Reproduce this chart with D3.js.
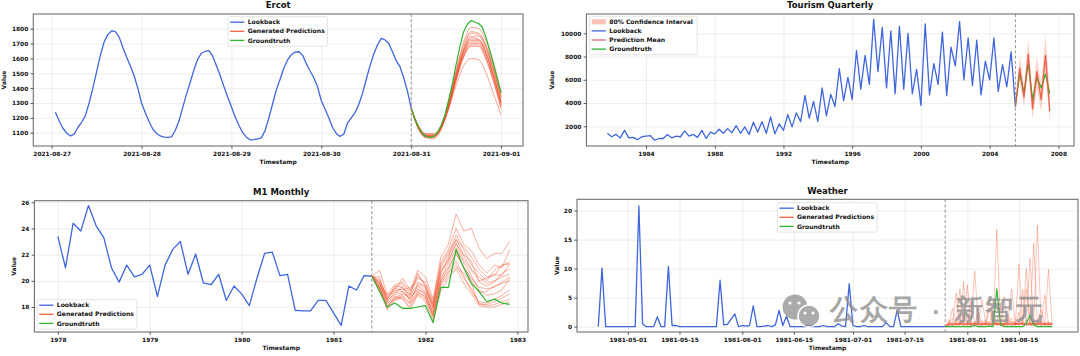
<!DOCTYPE html>
<html><head><meta charset="utf-8">
<script src="https://cdn.jsdelivr.net/npm/d3@7"></script>
<style>
body{margin:0;background:#fff}
svg{display:block}
text{font-family:"DejaVu Sans",sans-serif;font-weight:bold;fill:#111}
</style>
</head><body><script>
// ---------------- DATA ----------------
// Ercot: hourly from 2021-08-27 01:00
const ercotLookback = [1237,1180,1130,1098,1078,1090,1135,1170,1215,1300,1400,1510,1620,1710,1760,1785,1780,1745,1675,1610,1550,1485,1400,1300,
1235,1175,1125,1095,1078,1070,1068,1072,1115,1180,1270,1360,1440,1525,1595,1635,1648,1652,1615,1550,1485,1410,1340,1275,
1205,1150,1100,1070,1052,1053,1058,1065,1115,1200,1295,1390,1460,1535,1590,1625,1643,1645,1622,1565,1515,1470,1410,1315,
1260,1200,1135,1095,1075,1090,1165,1200,1235,1290,1365,1460,1550,1630,1690,1735,1725,1700,1645,1585,1545,1470,1380,1265];
// hourly from 2021-08-31 00:00
const ercotTruth = [1265,1190,1135,1095,1075,1068,1075,1100,1150,1220,1320,1430,1560,1680,1780,1830,1855,1845,1835,1810,1740,1650,1560,1460,1370];
// every 2 hours from 2021-08-31 00:00
const ercotSamples = [
[1265,1130,1080,1075,1130,1280,1480,1650,1740,1730,1640,1480,1300],
[1265,1125,1070,1070,1140,1300,1500,1660,1750,1750,1670,1520,1330],
[1265,1135,1085,1085,1135,1270,1460,1620,1700,1700,1610,1460,1280],
[1265,1120,1065,1060,1120,1290,1510,1690,1780,1770,1690,1540,1350],
[1265,1140,1090,1090,1150,1290,1470,1610,1680,1680,1590,1440,1260],
[1265,1130,1075,1075,1140,1290,1490,1670,1770,1760,1680,1520,1340],
[1265,1145,1095,1095,1140,1260,1420,1550,1600,1590,1500,1360,1220],
[1265,1125,1070,1070,1130,1300,1520,1710,1810,1800,1720,1570,1370],
[1265,1130,1080,1080,1135,1280,1470,1640,1720,1720,1630,1480,1290],
[1265,1135,1080,1075,1130,1270,1460,1630,1710,1710,1630,1480,1300],
[1265,1130,1075,1080,1140,1290,1480,1650,1730,1725,1650,1500,1310],
[1265,1140,1085,1080,1130,1265,1450,1610,1690,1690,1600,1450,1270]];
const ercotTicks = ["2021-08-27","2021-08-28","2021-08-29","2021-08-30","2021-08-31","2021-09-01"];
const ercotYTicks = [1100,1200,1300,1400,1500,1600,1700,1800];

// Tourism Quarterly: quarterly from 1981 Q4
const tourismLookback = [1400,1100,1300,1000,1650,1000,1050,850,
1100,1150,1200,800,950,950,1300,1000,
1150,1100,1600,1150,1300,1050,1650,950,
1500,1350,1750,1400,1800,1450,2050,1400,
1950,1300,2350,1500,2400,1400,2800,1350,
2200,1650,3000,1950,3150,2400,4650,2700,
4150,2400,5300,2900,4750,3700,6950,4200,
6200,4300,8500,5200,8100,5600,11200,6700,
10500,5300,10200,4800,10600,5200,10000,4800,
6900,3800,10800,4700,7400,5600,10100,4650,
8800,7200,11000,6000,9600,5500,9400,4700,
7600,6000,9600,5000,7300,5400,8400,3700];
const tourismMean  = [3700,7000,4500,8200,3500,6700,4300,8100,3300];
const tourismUpper = [3700,8100,5400,9500,4700,8000,5600,9900,5000];
const tourismLower = [3700,5800,3700,6800,2600,5300,3200,6500,2300];
const tourismTruth = [3700,6500,4900,7400,4300,6200,5300,6500,4800];
const tourismTicks = [1984,1988,1992,1996,2000,2004,2008];
const tourismYTicks = [2000,4000,6000,8000,10000];

// M1 Monthly: monthly from 1978-01
const m1Lookback = [23.4,21.0,24.4,23.8,25.75,24.2,23.3,21.0,19.9,21.2,20.3,20.5,
21.2,18.8,21.2,22.4,23.0,20.5,22.05,19.85,19.7,20.5,18.5,19.6,
19.0,18.1,20.2,22.1,22.2,20.4,20.5,17.75,17.7,17.7,18.5,18.5,
17.55,16.6,19.6,19.3,20.4,20.35];
// monthly from 1981-06
const m1Truth = [20.35,19.2,18.0,18.3,17.9,17.9,18.0,18.1,16.8,19.5,19.5,22.4,21.0,19.8,19.2,18.4,18.6,18.3,18.2];
const m1Samples = [
[20.35,20.8,19.0,19.7,19.9,19.2,20.8,20.3,18.6,21.8,22.8,25.1,23.8,24.0,22.5,21.7,22.1,22.1,23.0],
[20.35,19.8,18.4,19.1,19.2,18.6,19.6,19.0,17.5,20.3,21.0,22.2,21.0,20.2,19.5,19.4,19.5,19.9,20.3],
[20.35,19.5,18.0,18.6,18.9,18.3,19.2,18.7,17.2,19.8,20.6,21.2,20.2,19.4,18.3,18.1,18.2,18.4,18.6],
[20.35,20.1,18.8,19.5,19.8,19.0,20.4,19.7,18.1,21.0,22.0,23.5,22.4,21.2,20.6,20.0,20.8,21.2,21.4],
[20.35,19.4,17.8,18.5,18.7,17.8,18.9,18.4,17.0,19.2,20.2,20.9,19.8,19.0,18.1,18.0,18.0,18.2,18.4],
[20.35,19.9,18.6,19.4,19.3,19.5,19.9,19.4,17.9,20.8,21.6,22.8,21.6,20.8,20.0,20.2,20.5,20.4,21.3],
[20.35,19.6,18.2,18.9,19.1,18.8,19.4,18.9,17.6,20.1,21.3,22.5,21.4,20.4,19.3,18.9,19.0,19.3,20.2],
[20.35,19.7,18.5,19.0,19.6,18.4,19.7,19.2,18.2,20.5,21.8,23.2,22.0,21.5,19.9,19.6,19.9,20.6,20.9],
[20.35,19.3,17.9,18.8,18.6,18.0,19.0,18.6,17.4,19.6,20.4,21.0,20.6,19.8,18.2,18.2,18.4,18.7,19.0],
[20.35,20.0,18.9,19.3,20.2,19.3,20.2,19.9,18.4,21.4,22.4,24.0,22.8,22.3,21.2,20.6,21.2,21.0,22.4],
[20.35,19.5,18.3,18.7,19.0,18.7,19.3,19.1,17.8,20.0,20.9,22.0,21.1,20.0,19.1,19.2,19.6,19.8,20.0],
[20.35,19.8,18.7,19.2,19.4,18.9,19.8,19.6,18.0,20.6,21.5,22.9,21.9,20.9,20.3,19.8,20.0,20.3,20.5],
[20.35,19.4,18.1,18.6,18.8,18.2,19.1,18.8,17.3,19.9,20.7,21.5,20.4,19.2,18.4,18.3,18.6,18.9,19.3],
[20.35,20.3,18.5,19.6,19.5,18.9,20.6,19.5,18.3,21.2,22.2,23.1,22.6,21.8,20.9,20.3,20.4,21.2,21.3]];
const m1Ticks = [1978,1979,1980,1981,1982,1983];
const m1YTicks = [18,20,22,24,26];

// Weather: daily from 1981-04-23
const weatherLookback = [0,10.1,0,0,0,0,0,0,0,0,
0,20.8,0.5,0,0,0,1.7,0,0,10.4,
0.2,0.2,0,0,0,0,0,0,0,0,
0,0,0,8.0,0.3,0.4,1.3,2.2,0,0.2,
0.1,0.2,3.6,0,0,0.1,0.2,0,0.3,2.8,
0.2,1.8,0,0,0,0,0,0.3,0,0,
0,0.2,0,0,0,0.5,0.1,0,7.4,0.2,
0,0,0.2,0,0,0,0,0,0.7,0,
0,2.8,0,0,0,0,0,0,0,0,
0,0,0,0,0];
// daily from 1981-07-26
const weatherTruth = [0,0,0,0,0,0,0,0,0.2,0,0,0,0.1,0,6.5,0.3,0,0,0,0,0,0,0.5,2.0,0.3,0,0,0,0,0];
const weatherSamples = [
[0,0.4,0.2,1.0,6.5,0.3,0.5,0.2,0.8,0.3,0.1,1.2,0.4,0.2,16.8,0.5,0.3,0.8,0.2,0.4,0.6,0.3,1.1,0.2,0.5,0.3,0.8,0.4,0.2,0.6],
[0,0.8,0.3,0.5,0.2,7.8,0.4,0.6,0.2,1.4,0.3,0.5,0.2,0.7,0.4,0.3,5.2,0.4,0.9,0.2,10.7,0.5,0.3,0.7,0.4,1.0,0.2,0.5,0.8,0.3],
[0,0.2,0.6,0.3,0.9,0.4,7.2,0.3,9.6,0.5,0.2,0.8,0.3,0.6,0.2,0.9,0.4,0.3,0.5,0.7,0.3,0.4,6.5,0.6,0.3,17.5,0.5,0.3,0.4,0.2],
[0,0.5,1.5,0.3,0.4,0.6,0.2,4.5,0.3,0.5,0.8,0.2,3.2,0.4,0.6,0.3,0.5,2.0,0.3,0.6,0.4,0.8,0.3,0.5,14.4,0.3,0.6,0.4,9.9,0.3],
[0,0.3,0.5,5.8,0.4,0.2,0.7,0.3,0.5,2.5,0.4,0.6,0.3,0.5,0.8,0.4,0.2,0.6,1.5,0.3,0.5,0.4,0.7,11.8,0.3,0.5,0.4,0.3,0.6,0.4],
[0,0.6,0.2,0.4,0.8,0.3,0.5,0.6,0.4,0.3,4.6,0.5,0.3,0.4,0.6,0.2,0.5,0.3,0.9,0.4,0.3,6.4,0.5,0.2,0.4,0.6,3.0,0.3,0.5,0.4],
[0,0.4,3.2,0.5,0.3,0.6,0.4,0.2,0.5,0.3,0.6,0.4,0.8,2.8,0.3,0.5,0.4,0.2,0.6,0.3,0.5,0.7,10.0,0.4,0.3,0.5,0.2,0.6,0.4,0.5],
[0,0.7,0.4,0.3,0.6,0.5,0.3,0.8,0.4,0.6,0.3,0.5,0.4,0.7,0.3,0.6,0.5,0.4,0.3,0.8,0.4,0.6,0.3,0.5,0.7,0.4,0.6,0.3,0.5,0.8],
[0,1.2,0.5,0.8,0.4,1.0,0.6,0.3,0.7,0.5,1.1,0.4,0.6,0.9,0.5,0.7,0.3,1.2,0.6,0.4,0.8,0.5,0.3,0.7,0.6,0.4,1.0,0.5,0.7,0.4],
[0,0.3,0.6,0.4,0.5,0.3,0.7,0.5,0.4,0.6,0.3,0.5,0.7,0.4,0.5,3.6,0.4,0.6,0.3,0.5,0.4,0.6,0.5,0.3,0.7,0.4,0.5,0.6,0.3,0.5],
[0,0.5,0.3,0.6,0.4,2.2,0.5,0.3,0.6,0.4,0.5,0.3,5.0,0.4,0.6,0.3,0.5,0.4,6.5,0.3,0.5,0.6,0.4,0.3,0.5,0.7,0.4,5.5,0.3,0.5],
[0,0.2,0.4,0.3,0.5,0.4,0.3,0.6,0.2,0.4,0.5,0.3,0.6,0.4,0.3,0.5,0.4,0.6,0.3,0.4,2.5,0.3,0.5,0.4,0.6,0.3,0.5,0.4,0.3,0.5]];
const weatherTicks = ["1981-05-01","1981-05-15","1981-06-01","1981-06-15","1981-07-01","1981-07-15","1981-08-01","1981-08-15"];
const weatherYTicks = [0,5,10,15,20];

const legendLabels3 = ["Lookback","Generated Predictions","Groundtruth"];
const legendLabels4 = ["80% Confidence Interval","Lookback","Prediction Mean","Groundtruth"];

// ---------------- DRAWING ----------------
const BLUE="#3f66dc", RED="#f0502c", GREEN="#2fb52f";
const HOUR=3600e3, DAY=86400e3;
const parseDay=d3.utcParse("%Y-%m-%d"), fmtDay=d3.utcFormat("%Y-%m-%d");
const svg=d3.select("body").append("svg").attr("width",1080).attr("height",356);
let clipId=0;

function panel(p){
  const g=svg.append("g");
  const x=p.x, y=p.y;
  const [L,R]=x.range(), [B,T]=y.range();
  // grid
  g.append("g").attr("transform",`translate(0,${B})`)
    .call(d3.axisBottom(x).tickValues(p.xt).tickSize(-(B-T)).tickFormat(""))
    .call(s=>{s.select(".domain").remove();s.selectAll("line").attr("stroke","#e3e3e3").attr("stroke-width",0.6);});
  g.append("g").attr("transform",`translate(${L},0)`)
    .call(d3.axisLeft(y).tickValues(p.yt).tickSize(-(R-L)).tickFormat(""))
    .call(s=>{s.select(".domain").remove();s.selectAll("line").attr("stroke","#e3e3e3").attr("stroke-width",0.6);});
  const id="clip"+(clipId++);
  g.append("clipPath").attr("id",id).append("rect").attr("x",L).attr("y",T).attr("width",R-L).attr("height",B-T);
  const c=g.append("g").attr("clip-path",`url(#${id})`);
  p.draw(c,x,y);
  c.append("line").attr("x1",x(p.split)).attr("x2",x(p.split)).attr("y1",T).attr("y2",B)
    .attr("stroke","#888").attr("stroke-width",0.9).attr("stroke-dasharray","3,2.2");
  if(p.after) p.after(g,x,y);
  g.append("rect").attr("x",L).attr("y",T).attr("width",R-L).attr("height",B-T)
    .attr("fill","none").attr("stroke","#707070").attr("stroke-width",1.1);
  const ax=g.append("g").attr("transform",`translate(0,${B})`)
    .call(d3.axisBottom(x).tickValues(p.xt).tickFormat(p.xf).tickSize(2.8).tickPadding(3.3));
  const ay=g.append("g").attr("transform",`translate(${L},0)`)
    .call(d3.axisLeft(y).tickValues(p.yt).tickFormat(d3.format("d")).tickSize(2.8).tickPadding(2.2));
  [ax,ay].forEach(a=>{a.select(".domain").remove();a.selectAll("line").attr("stroke","#333").attr("stroke-width",0.8);
    a.selectAll("text").attr("font-size",5.9).attr("font-family","DejaVu Sans").attr("font-weight","bold").attr("fill","#111");});
  g.append("text").attr("x",(L+R)/2).attr("y",T-5.6).attr("text-anchor","middle").attr("font-size",8.5).text(p.title);
  g.append("text").attr("x",(L+R)/2).attr("y",B+17.6).attr("text-anchor","middle").attr("font-size",6).text("Timestamp");
  g.append("text").attr("transform",`translate(${p.ylx},${(T+B)/2}) rotate(-90)`).attr("text-anchor","middle").attr("font-size",6).text("Value");
  legend(g,p.leg);
}

function legend(g,l){
  const n=l.items.length;
  const h=5.5+9.1*(n-1)+5.7;
  g.append("rect").attr("x",l.x).attr("y",l.y).attr("width",l.w).attr("height",h).attr("rx",1.5)
    .attr("fill","#fff").attr("fill-opacity",0.85).attr("stroke","#d2d2d2").attr("stroke-width",0.6);
  l.items.forEach((it,i)=>{
    const cy=l.y+5.5+9.1*i;
    if(it.type==="patch"){
      g.append("rect").attr("x",l.x+2.2).attr("y",cy-2.6).attr("width",14).attr("height",5.2).attr("fill",it.color).attr("opacity",it.op||1);
    } else {
      g.append("line").attr("x1",l.x+2).attr("x2",l.x+16.3).attr("y1",cy).attr("y2",cy)
        .attr("stroke",it.color).attr("stroke-width",1.3).attr("stroke-opacity",it.op||1);
    }
    g.append("text").attr("x",l.x+19.6).attr("y",cy+2.1).attr("font-size",6.1).text(it.label);
  });
}

function path(c,pts,x,y,color,w,op,curve){
  const ln=d3.line().x(d=>x(d[0])).y(d=>y(d[1]));
  if(curve) ln.curve(curve);
  c.append("path").attr("d",ln(pts)).attr("fill","none").attr("stroke",color).attr("stroke-width",w)
    .attr("stroke-opacity",op).attr("stroke-linejoin","round");
}

// ---- Ercot
const e0=Date.UTC(2021,7,27);
panel({
  title:"Ercot",
  x:d3.scaleUtc().domain([new Date(e0-4.9*HOUR),new Date(e0+125.85*HOUR)]).range([33.3,523]),
  y:d3.scaleLinear().domain([1010.5,1899]).range([146,14]),
  xt:ercotTicks.map(parseDay), xf:fmtDay, yt:ercotYTicks, ylx:6,
  split:new Date(e0+96*HOUR),
  draw:(c,x,y)=>{
    path(c,ercotLookback.map((v,i)=>[new Date(e0+(i+1)*HOUR),v]),x,y,BLUE,1.3,1);
    ercotSamples.forEach(s=>path(c,s.map((v,i)=>[new Date(e0+(96+2*i)*HOUR),v]),x,y,RED,1.0,0.5,d3.curveMonotoneX));
    path(c,ercotTruth.map((v,i)=>[new Date(e0+(96+i)*HOUR),v]),x,y,GREEN,1.2,1);
  },
  leg:{x:228.1,y:16.7,w:99.4,items:[
    {label:legendLabels3[0],color:BLUE},{label:legendLabels3[1],color:"#f2603f"},{label:legendLabels3[2],color:GREEN}]}
});

// ---- Tourism
const tq=i=>1981.75+i/4;
panel({
  title:"Tourism Quarterly",
  x:d3.scaleLinear().domain([1980.53,2008.91]).range([586.4,1074]),
  y:d3.scaleLinear().domain([305,11660]).range([146,14]),
  xt:tourismTicks, xf:d3.format("d"), yt:tourismYTicks, ylx:554.4,
  split:2005.5,
  draw:(c,x,y)=>{
    path(c,tourismLookback.map((v,i)=>[tq(i),v]),x,y,BLUE,1.3,1);
    const band=tourismUpper.map((u,i)=>({t:2005.5+i/4,u,l:tourismLower[i]}));
    c.append("path").attr("d",d3.area().x(d=>x(d.t)).y0(d=>y(d.l)).y1(d=>y(d.u))(band))
      .attr("fill","#f7a99b").attr("fill-opacity",0.5);
    path(c,tourismTruth.map((v,i)=>[2005.5+i/4,v]),x,y,GREEN,1.2,1);
    path(c,tourismMean.map((v,i)=>[2005.5+i/4,v]),x,y,"#ee4a32",1.3,0.85);
  },
  leg:{x:589.6,y:16.3,w:107.6,items:[
    {label:legendLabels4[0],type:"patch",color:"#f7b2a6",op:0.8},{label:legendLabels4[1],color:BLUE},
    {label:legendLabels4[2],color:"#d9707a"},{label:legendLabels4[3],color:GREEN}]}
});

// ---- M1 Monthly
const mm=i=>1978+i/12;
panel({
  title:"M1 Monthly",
  x:d3.scaleLinear().domain([1977.745,1983.116]).range([34.4,528]),
  y:d3.scaleLinear().domain([16.09,26.12]).range([332,200.7]),
  xt:m1Ticks, xf:d3.format("d"), yt:m1YTicks, ylx:15.5,
  split:mm(41),
  draw:(c,x,y)=>{
    path(c,m1Lookback.map((v,i)=>[mm(i),v]),x,y,BLUE,1.3,1);
    m1Samples.forEach(s=>path(c,s.map((v,i)=>[mm(41+i),v]),x,y,RED,0.9,0.5));
    path(c,m1Truth.map((v,i)=>[mm(41+i),v]),x,y,GREEN,1.2,1);
  },
  leg:{x:37.2,y:299.7,w:99.7,items:[
    {label:legendLabels3[0],color:BLUE},{label:legendLabels3[1],color:"#f2603f"},{label:legendLabels3[2],color:GREEN}]}
});

// ---- Weather
const w0=Date.UTC(1981,3,23), wAug=Date.UTC(1981,7,1);
panel({
  title:"Weather",
  x:d3.scaleUtc().domain([new Date(wAug-105.77*DAY),new Date(wAug+30.0*DAY)]).range([577,1078]),
  y:d3.scaleLinear().domain([-0.92,21.95]).range([332,199.3]),
  xt:weatherTicks.map(parseDay), xf:fmtDay, yt:weatherYTicks, ylx:559,
  split:new Date(w0+94*DAY),
  draw:(c,x,y)=>{
    path(c,weatherLookback.map((v,i)=>[new Date(w0+i*DAY),v]),x,y,BLUE,1.3,1);
    weatherSamples.forEach(s=>path(c,s.map((v,i)=>[new Date(w0+(94+i)*DAY),v]),x,y,RED,0.8,0.42));
    path(c,weatherTruth.map((v,i)=>[new Date(w0+(94+i)*DAY),v]),x,y,GREEN,1.2,1);
  },
  after:(g)=>{
    // watermark overlay
    const wm=g.append("g").attr("opacity",0.75);
    wm.append("circle").attr("cx",795).attr("cy",307).attr("r",12.5).attr("fill","#8f8f8f");
    wm.append("circle").attr("cx",809).attr("cy",316).attr("r",11).attr("fill","#8f8f8f").attr("stroke","#fff").attr("stroke-width",1.5);
    [[790,303],[799,303],[805,313],[813,313]].forEach(d=>wm.append("circle").attr("cx",d[0]).attr("cy",d[1]).attr("r",1.6).attr("fill","#fff"));
    wm.append("text").attr("x",830).attr("y",318.5).attr("font-size",28).attr("font-weight","normal")
      .attr("font-family","Noto Sans CJK SC").style("fill","#8a8a8a").attr("letter-spacing",1.5).text("公众号");
    wm.append("text").attr("x",932).attr("y",318.5).attr("font-size",20).attr("font-weight","normal")
      .attr("font-family","Noto Sans CJK SC").style("fill","#8a8a8a").text("·");
    wm.append("text").attr("x",955).attr("y",318.5).attr("font-size",28).attr("font-weight","normal")
      .attr("font-family","Noto Sans CJK SC").style("fill","#8a8a8a").attr("letter-spacing",2).text("新智元");
  },
  leg:{x:777.4,y:202.7,w:99.7,items:[
    {label:legendLabels3[0],color:BLUE},{label:legendLabels3[1],color:"#f2603f"},{label:legendLabels3[2],color:GREEN}]}
});
</script></body></html>
